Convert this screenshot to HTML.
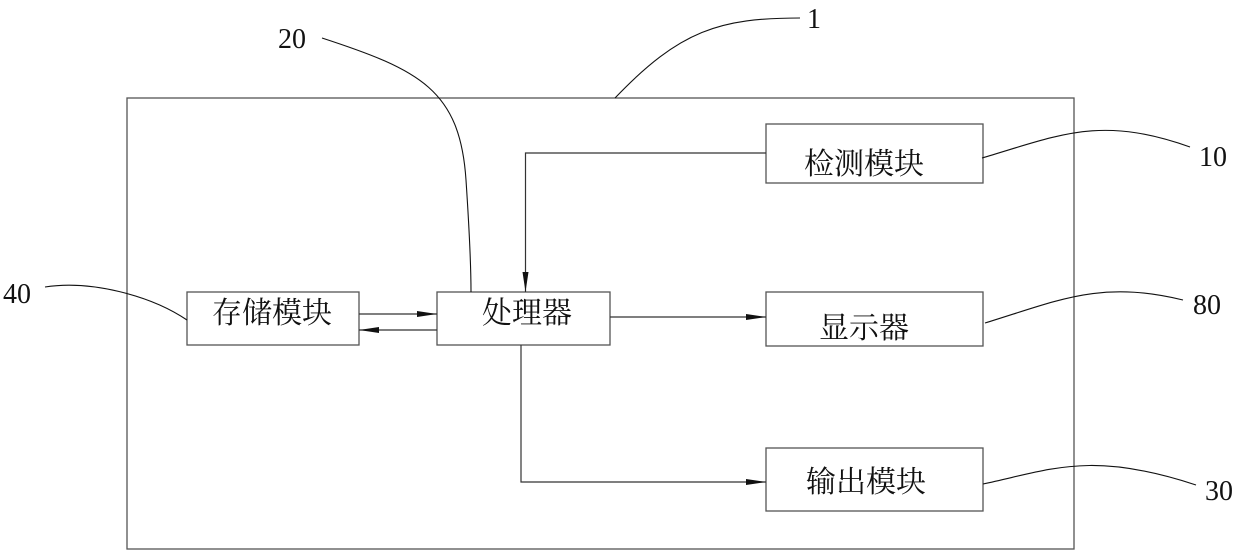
<!DOCTYPE html>
<html><head><meta charset="utf-8"><style>
html,body{margin:0;padding:0;background:#fff;}
svg{display:block;}
.t{font-family:"Noto Serif CJK SC","WenQuanYi Zen Hei",serif;font-size:30px;fill:#111;}
.n{font-family:"Liberation Serif",serif;font-size:28px;fill:#111;}
</style></head><body>
<svg width="1240" height="554" viewBox="0 0 1240 554" xmlns="http://www.w3.org/2000/svg">
<defs><marker id="a" markerWidth="20" markerHeight="8" refX="20" refY="4" orient="auto" markerUnits="userSpaceOnUse"><path d="M0,1 L20,4 L0,7 Z" fill="#111"/></marker></defs>
<g fill="none" stroke="#555" stroke-width="1.3">
<rect x="127" y="98" width="947" height="451"/>
<rect x="187" y="292" width="172" height="53"/>
<rect x="437" y="292" width="173" height="53"/>
<rect x="766" y="124" width="217" height="59"/>
<rect x="766" y="292" width="217" height="54"/>
<rect x="766" y="448" width="217" height="63"/>
</g>
<g fill="none" stroke="#333" stroke-width="1.2">
<path d="M766,153 H525.5 V292" marker-end="url(#a)"/>
<path d="M359,314 H437" marker-end="url(#a)"/>
<path d="M437,330 H359" marker-end="url(#a)"/>
<path d="M610,317 H766" marker-end="url(#a)"/>
<path d="M521,345 V482 H766" marker-end="url(#a)"/>
</g>
<g fill="none" stroke="#111" stroke-width="1.1">
<path d="M322,38 C420,70 460,90 466,180 C470,240 471,270 471,292"/>
<path d="M615,98 C680,30 720,18 800,18"/>
<path d="M982,158 C1060,135 1100,115 1190,147"/>
<path d="M985,323 C1060,300 1100,280 1183,300"/>
<path d="M983,484 C1050,470 1090,450 1196,485"/>
<path d="M45,287 C90,280 150,295 187,320"/>
</g>
<text class="t" x="272" y="323" text-anchor="middle">存储模块</text>
<text class="t" x="527" y="323" text-anchor="middle">处理器</text>
<text class="t" x="864" y="174" text-anchor="middle">检测模块</text>
<text class="t" x="864" y="338" text-anchor="middle">显示器</text>
<text class="t" x="866" y="492" text-anchor="middle">输出模块</text>
<text class="n" x="278" y="48">20</text>
<text class="n" x="807" y="28">1</text>
<text class="n" x="1199" y="166">10</text>
<text class="n" x="1193" y="314">80</text>
<text class="n" x="1205" y="500">30</text>
<text class="n" x="3" y="303">40</text>
</svg>
</body></html>
